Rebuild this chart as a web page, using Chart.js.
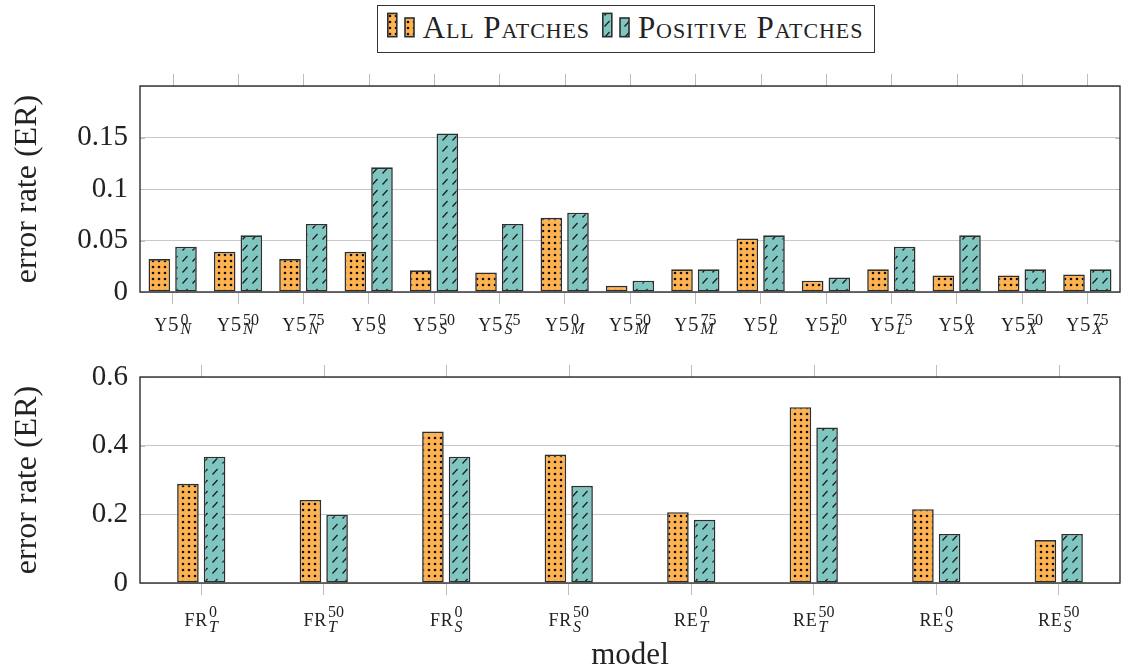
<!DOCTYPE html>
<html>
<head>
<meta charset="utf-8">
<script src="https://cdn.jsdelivr.net/npm/chart.js@4.4.0/dist/chart.umd.min.js"></script>
<style>
  html, body { margin: 0; padding: 0; background: #fff; }
  #wrap { position: relative; width: 1121px; height: 672px; overflow: hidden; }
  #topChart { position: absolute; left: 0; top: 0; }
  #botChart { position: absolute; left: 0; top: 345px; }
  #legend {
    position: absolute; left: 377px; top: 5px; width: 498px; height: 48px;
    box-sizing: border-box; border: 1.3px solid #333; background: #fff;
    display: flex; align-items: center; z-index: 2;
    font-family: 'Liberation Serif', 'DejaVu Serif', serif;
    font-variant: small-caps; font-size: 31px; line-height: 1; color: #222;
    letter-spacing: 0.9px;
  }
  #legend canvas { display: block; }
  #legend span { position: relative; top: -2px; white-space: nowrap; }
</style>
</head>
<body>
<div id="wrap">
  <canvas id="topChart" width="1121" height="345"></canvas>
  <canvas id="botChart" width="1121" height="327"></canvas>
  <div id="legend">
    <canvas id="sw1" width="28" height="45" style="margin-left:8.7px"></canvas>
    <span style="margin-left:8px">All Patches</span>
    <canvas id="sw2" width="28" height="45" style="margin-left:12px"></canvas>
    <span style="margin-left:8px">Positive Patches</span>
  </div>
</div>
<script>
// ---- data ----
const seriesNames = ['All Patches', 'Positive Patches'];

const topBase = ['Y5', 'Y5', 'Y5', 'Y5', 'Y5', 'Y5', 'Y5', 'Y5', 'Y5', 'Y5', 'Y5', 'Y5', 'Y5', 'Y5', 'Y5'];
const topSup = ['0', '50', '75', '0', '50', '75', '0', '50', '75', '0', '50', '75', '0', '50', '75'];
const topSub = ['N', 'N', 'N', 'S', 'S', 'S', 'M', 'M', 'M', 'L', 'L', 'L', 'X', 'X', 'X'];
const topAll = [0.032, 0.039, 0.032, 0.039, 0.021, 0.019, 0.072, 0.006, 0.022, 0.052, 0.011, 0.022, 0.016, 0.016, 0.017];
const topPos = [0.044, 0.055, 0.066, 0.121, 0.154, 0.066, 0.077, 0.011, 0.022, 0.055, 0.014, 0.044, 0.055, 0.022, 0.022];

const botBase = ['FR', 'FR', 'FR', 'FR', 'RE', 'RE', 'RE', 'RE'];
const botSup = ['0', '50', '0', '50', '0', '50', '0', '50'];
const botSub = ['T', 'T', 'S', 'S', 'T', 'T', 'S', 'S'];
const botAll = [0.289, 0.242, 0.441, 0.374, 0.206, 0.512, 0.215, 0.125];
const botPos = [0.368, 0.199, 0.368, 0.283, 0.184, 0.453, 0.143, 0.143];

// ---- look ----
const SERIF = "'Liberation Serif', 'DejaVu Serif', serif";
const ORANGE = '#FFB250';
const TEAL = '#7FC6C1';
const EDGE = '#2e2e2e';
const GRID = '#c8c8c8';
const TICK = '#bdbdbd';
const TEXT = '#222222';

function dotPattern() {
  const c = document.createElement('canvas');
  c.width = 6; c.height = 6;
  const g = c.getContext('2d');
  g.fillStyle = ORANGE; g.fillRect(0, 0, 6, 6);
  g.fillStyle = '#111';
  g.beginPath(); g.arc(3, 3, 1.3, 0, Math.PI * 2); g.fill();
  return g.createPattern(c, 'repeat');
}

function hatchPattern() {
  const c = document.createElement('canvas');
  c.width = 10; c.height = 11;
  const g = c.getContext('2d');
  g.fillStyle = TEAL; g.fillRect(0, 0, 10, 11);
  g.strokeStyle = '#1a1a1a'; g.lineWidth = 1.2;
  g.beginPath(); g.moveTo(2.5, 8.5); g.lineTo(7.5, 3); g.stroke();
  return g.createPattern(c, 'repeat');
}

const fills = [dotPattern(), hatchPattern()];

// legend swatches: two little bars each
function drawSwatch(id, fill) {
  const g = document.getElementById(id).getContext('2d');
  g.fillStyle = fill; g.strokeStyle = EDGE; g.lineWidth = 1.6;
  [[0.8, 6.4, 9, 23.3], [18, 11, 9, 18.7]].forEach(r => {
    g.fillRect(r[0], r[1], r[2], r[3]);
    g.strokeRect(r[0], r[1], r[2], r[3]);
  });
}
drawSwatch('sw1', fills[0]);
drawSwatch('sw2', fills[1]);

// frame, outer ticks and the sub/superscript category labels
const framePlugin = {
  id: 'frame',
  afterDraw(chart, args, opts) {
    const { ctx, chartArea: a, scales: { x, y } } = chart;
    ctx.save();
    ctx.lineWidth = 1;
    ctx.strokeStyle = TICK;
    ctx.beginPath();
    opts.base.forEach((b, i) => {
      const px = Math.round(x.getPixelForValue(i)) + 0.5;
      ctx.moveTo(px, a.top - 12); ctx.lineTo(px, a.top);
    });
    y.ticks.forEach(t => {
      const py = Math.round(y.getPixelForValue(t.value)) + 0.5;
      ctx.moveTo(a.left, py); ctx.lineTo(a.left + 5, py);
      ctx.moveTo(a.right - 5, py); ctx.lineTo(a.right, py);
    });
    ctx.stroke();

    ctx.strokeStyle = EDGE;
    ctx.lineWidth = 1.4;
    ctx.strokeRect(a.left, a.top, a.right - a.left, a.bottom - a.top);

    // labels
    ctx.fillStyle = TEXT;
    ctx.textAlign = 'left';
    ctx.textBaseline = 'alphabetic';
    const capFont = '18px ' + SERIF, digFont = '21px ' + SERIF;
    const supFont = '16px ' + SERIF, subFont = 'italic 16px ' + SERIF;
    const by = a.bottom + opts.dy;
    opts.base.forEach((b, i) => {
      const parts = b.split('').map(ch => ({ ch, font: /[A-Z]/.test(ch) ? capFont : digFont }));
      let wb = 0;
      parts.forEach(p => { ctx.font = p.font; p.w = ctx.measureText(p.ch).width + 0.8; wb += p.w; });
      ctx.font = supFont; const wsup = ctx.measureText(opts.sup[i]).width;
      ctx.font = subFont; const wsub = ctx.measureText(opts.sub[i]).width;
      const total = wb + 1 + Math.max(wsup, wsub);
      let sx = x.getPixelForValue(i) - total / 2;
      parts.forEach(p => { ctx.font = p.font; ctx.fillText(p.ch, sx, by); sx += p.w; });
      ctx.font = supFont; ctx.fillText(opts.sup[i], sx + 1, by + opts.supDy);
      ctx.font = subFont; ctx.fillText(opts.sub[i], sx + 1, by + opts.subDy);
    });
    ctx.restore();
  }
};

function makeChart(id, base, sup, sub, allVals, posVals, cfg) {
  const labels = base.map((b, i) => b + '^' + sup[i] + '_' + sub[i]);
  return new Chart(document.getElementById(id), {
    type: 'bar',
    data: {
      labels: labels,
      datasets: [allVals, posVals].map((vals, k) => ({
        label: seriesNames[k],
        data: vals,
        backgroundColor: fills[k],
        borderColor: EDGE,
        borderWidth: 1.6,
        borderSkipped: false,
        categoryPercentage: cfg.catPct,
        barPercentage: 0.81
      }))
    },
    options: {
      responsive: false,
      animation: false,
      layout: { padding: { top: cfg.padTop, right: 1, left: 0, bottom: 0 } },
      plugins: {
        legend: { display: false },
        tooltip: { enabled: false },
        frame: { base: base, sup: sup, sub: sub, dy: cfg.dy, supDy: cfg.supDy, subDy: cfg.subDy }
      },
      scales: {
        x: {
          grid: { drawOnChartArea: false, drawTicks: true, tickLength: 12, offset: false, color: TICK },
          border: { display: false },
          ticks: { display: false },
          title: cfg.xTitle ? {
            display: true, text: cfg.xTitle, color: TEXT,
            font: { family: SERIF, size: 31, lineHeight: 1 },
            padding: { top: 0, bottom: 0.5 }
          } : { display: false },
          afterFit: s => { s.height = cfg.xHeight; }
        },
        y: {
          min: 0,
          max: cfg.yMax,
          grid: { color: GRID, drawTicks: false, lineWidth: 1 },
          border: { display: false },
          ticks: {
            stepSize: cfg.yStep,
            padding: 12,
            color: TEXT,
            font: { family: SERIF, size: 29 },
            callback: v => (cfg.hideTop && v > cfg.yMax - 1e-9) ? '' : String(+v.toFixed(2))
          },
          title: {
            display: true, text: 'error rate (ER)', color: TEXT,
            font: { family: SERIF, size: 32, lineHeight: 1.2 },
            padding: { top: 8, bottom: 0 }
          },
          afterFit: s => { s.width = 140; }
        }
      }
    },
    plugins: [framePlugin]
  });
}

makeChart('topChart', topBase, topSup, topSub, topAll, topPos, {
  catPct: 0.816, padTop: 86, xHeight: 53, yMax: 0.2, yStep: 0.05, hideTop: true,
  dy: 39, supDy: -6, subDy: 3
});

makeChart('botChart', botBase, botSup, botSub, botAll, botPos, {
  catPct: 0.435, padTop: 32, xHeight: 89, yMax: 0.6, yStep: 0.2, hideTop: false,
  dy: 43, supDy: -9, subDy: 6, xTitle: 'model'
});
</script>
</body>
</html>
